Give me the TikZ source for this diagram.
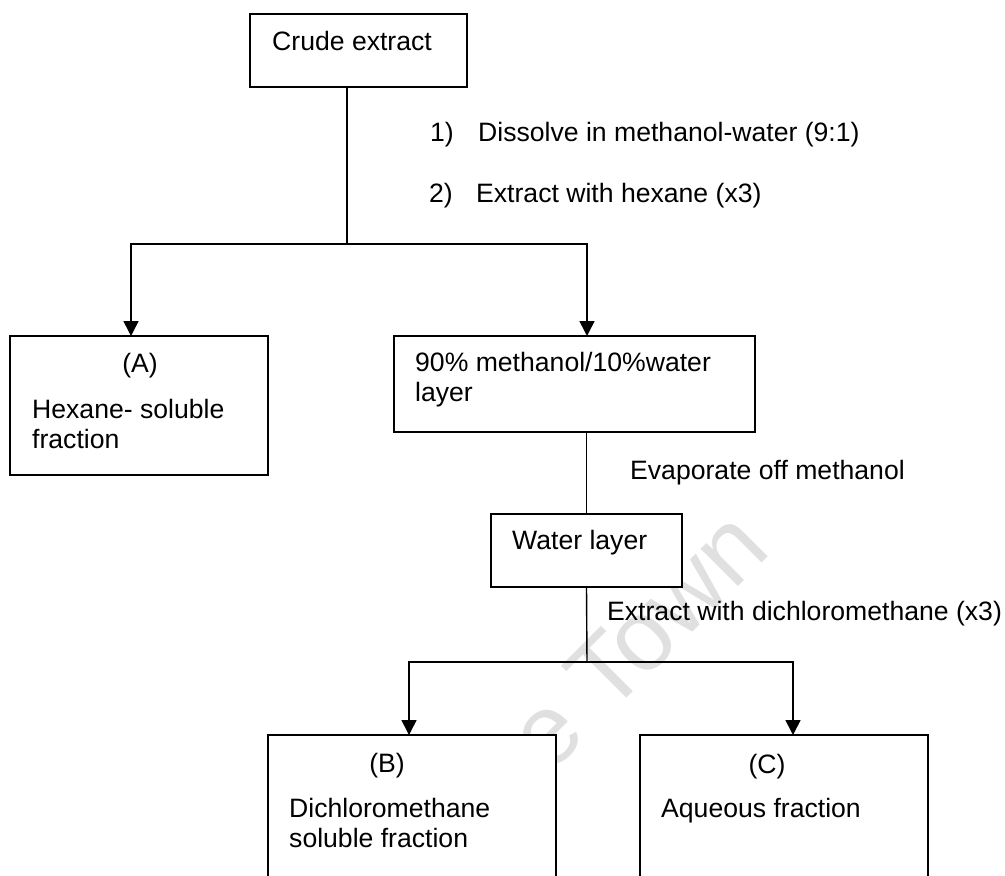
\documentclass[tikz,border=0pt]{standalone}
\usepackage{fontspec}
\setmainfont{Liberation Sans}
\usetikzlibrary{arrows.meta}
\begin{document}
\begin{tikzpicture}[x=1pt,y=-1pt,
  box/.style={draw=black, line width=1.7pt, fill=white, rectangle, inner sep=0pt, outer sep=0pt, anchor=north west},
  txt/.style={inner sep=0pt, anchor=base west, font=\fontsize{26.6}{30.6}\selectfont},
  ctxt/.style={inner sep=0pt, anchor=base, font=\fontsize{26.6}{30.6}\selectfont},
  link/.style={line width=1.4pt},
  flow/.style={line width=1.6pt, -{Triangle[width=15pt,length=15pt]}},
  wmark/.style={inner sep=0pt, text=black!12, font=\fontsize{100}{100}\selectfont}]
\clip (0,0) rectangle (1005,876);

% faint watermark behind the boxes
\node[wmark, rotate=45, anchor=base west] (wm) at (549,776) {e Town};

% boxes
\node[box, minimum width=217pt, minimum height=73pt]  (crude) at (250,14)  {};
\node[box, minimum width=258pt, minimum height=139pt] (boxA)  at (10,336)  {};
\node[box, minimum width=361pt, minimum height=96pt]  (meth)  at (394,336) {};
\node[box, minimum width=191pt, minimum height=73pt]  (water) at (491,514) {};
\node[box, minimum width=288pt, minimum height=200pt] (boxB)  at (268,735) {};
\node[box, minimum width=288pt, minimum height=200pt] (boxC)  at (640,735) {};

% box texts
\node[txt]  (tcrude) at (272,50)  {Crude extract};
\node[ctxt] (la)     at (140,372) {(A)};
\node[txt]  (ta1)    at (32,418)  {Hexane- soluble};
\node[txt]  (ta2)    at (32,448)  {fraction};
\node[txt]  (tm1)    at (415,371) {90\% methanol/10\%water};
\node[txt]  (tm2)    at (415,401) {layer};
\node[txt]  (tw)     at (512,549) {Water layer};
\node[ctxt] (lb)     at (387,772) {(B)};
\node[txt]  (tb1)    at (289,817) {Dichloromethane};
\node[txt]  (tb2)    at (289,847) {soluble fraction};
\node[ctxt] (lc)     at (767,773) {(C)};
\node[txt]  (tc)     at (661,817) {Aqueous fraction};

% step labels
\node[txt] (n1)    at (430,141) {1)};
\node[txt] (s1)    at (478,141) {Dissolve in methanol-water (9:1)};
\node[txt] (n2)    at (429,202) {2)};
\node[txt] (s2)    at (476,202) {Extract with hexane (x3)};
\node[txt] (tevap) at (630,479) {Evaporate off methanol};
\node[txt] (tdcm)  at (607,620) {Extract with dichloromethane (x3)};

% junction points
\coordinate (j1) at (347,244);
\coordinate (jA) at (131,244);
\coordinate (jM) at (587,244);
\coordinate (j2) at (587,662);
\coordinate (jB) at (409,662);
\coordinate (jC) at (793,662);

% connectors
\draw[link] (crude.south -| j1) -- (j1);
\draw[flow] (j1) -- (jA) -- (jA |- boxA.north);
\draw[flow] (j1) -- (jM) -- (jM |- meth.north);
\draw[link] (meth.south -| water.north) -- (water.north);
\draw[link] (water.south) -- (j2);
\draw[flow] (j2) -- (jB) -- (jB |- boxB.north);
\draw[flow] (j2) -- (jC) -- (jC |- boxC.north);
\end{tikzpicture}
\end{document}
